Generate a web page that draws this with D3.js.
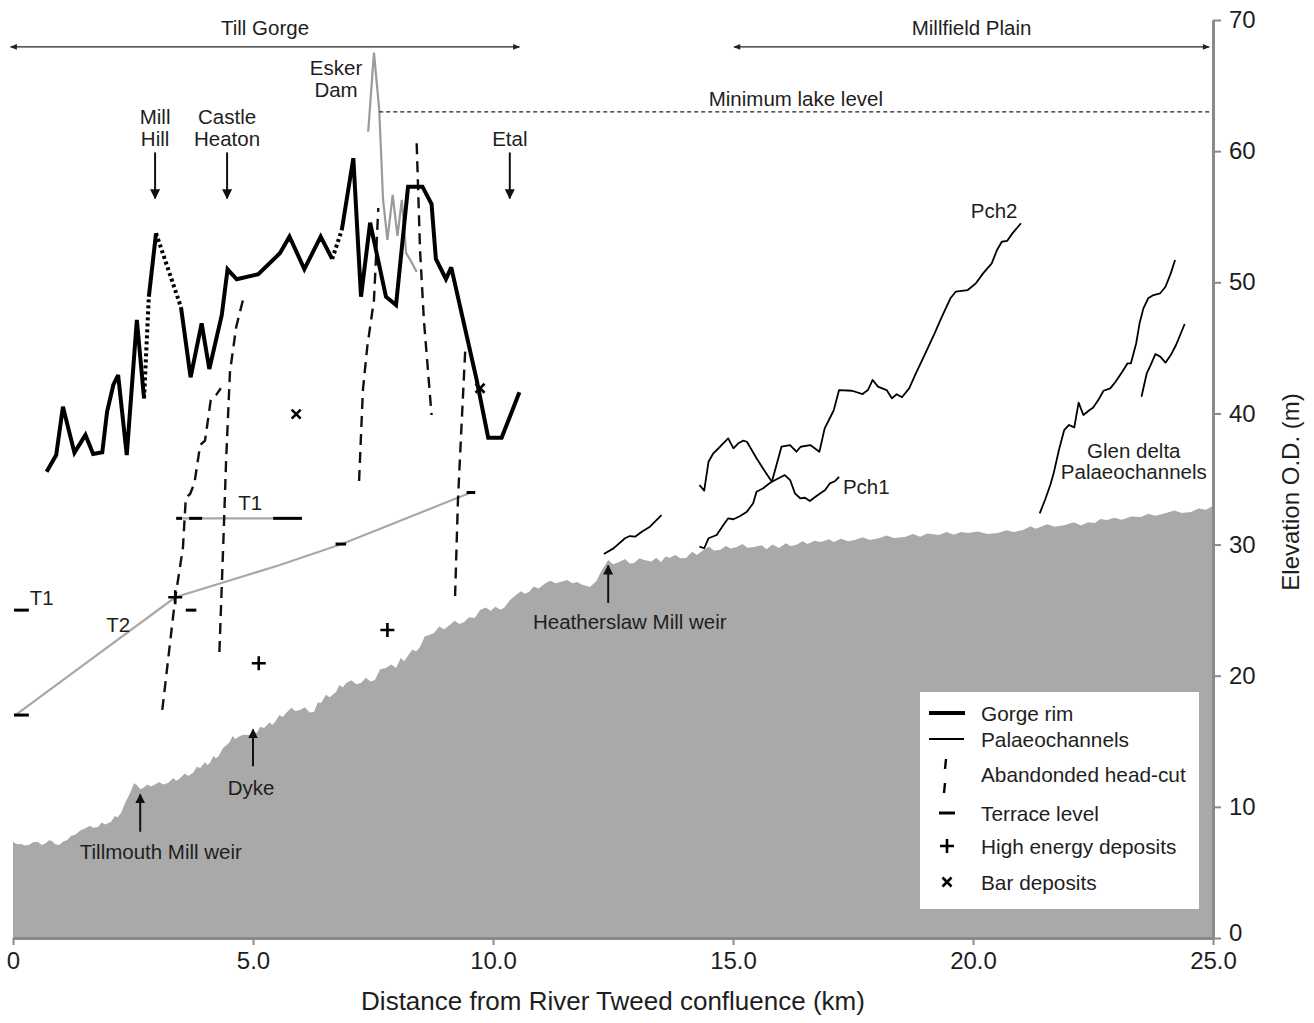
<!DOCTYPE html>
<html>
<head>
<meta charset="utf-8">
<script src="https://cdn.jsdelivr.net/npm/d3@7"></script>
<style>
  body { margin: 0; background: #fff; }
  svg { display: block; }
  text { font-family: "Liberation Sans", Arial, sans-serif; fill: #1e1e1e; }
</style>
</head>
<body>
<svg id="chart" width="1314" height="1023"></svg>
<script>
// ---- Long profile of the River Till: distance (km) vs elevation O.D. (m) ----

// River bed profile (filled area)
const riverBed = [[0.00,7.32],[0.09,7.15],[0.17,7.17],[0.25,7.05],[0.33,7.09],[0.42,7.30],[0.52,7.32],[0.60,7.10],[0.69,7.24],[0.75,7.45],[0.81,7.40],[0.88,7.15],[0.96,7.09],[1.05,7.35],[1.13,7.47],[1.21,7.80],[1.29,7.85],[1.40,8.20],[1.52,8.39],[1.60,8.55],[1.67,8.40],[1.77,8.46],[1.85,8.80],[1.92,8.65],[2.04,8.85],[2.12,9.30],[2.18,9.20],[2.25,9.53],[2.35,10.40],[2.44,11.06],[2.52,11.80],[2.58,11.67],[2.65,11.35],[2.71,11.44],[2.80,11.70],[2.87,11.55],[2.94,11.67],[3.05,11.90],[3.12,11.70],[3.23,11.82],[3.34,12.20],[3.40,12.00],[3.46,12.12],[3.58,12.55],[3.65,12.35],[3.75,12.58],[3.83,13.05],[3.90,12.96],[4.00,13.40],[4.05,13.20],[4.10,13.34],[4.18,13.90],[4.22,13.70],[4.27,13.80],[4.38,14.50],[4.50,14.87],[4.58,15.40],[4.63,15.15],[4.69,15.33],[4.80,15.50],[4.94,15.48],[5.00,15.80],[5.08,15.63],[5.15,16.10],[5.23,16.01],[5.35,16.45],[5.40,16.25],[5.46,16.47],[5.55,17.00],[5.62,16.85],[5.69,17.16],[5.80,17.55],[5.88,17.30],[5.98,17.39],[6.08,17.60],[6.18,17.20],[6.27,17.23],[6.35,17.95],[6.42,17.92],[6.52,18.55],[6.60,18.35],[6.73,18.76],[6.80,19.30],[6.87,19.10],[6.94,19.44],[7.05,19.65],[7.15,19.35],[7.25,19.44],[7.35,19.85],[7.45,19.55],[7.54,19.67],[7.65,20.50],[7.77,20.59],[7.88,20.85],[7.98,20.59],[8.08,21.35],[8.15,21.10],[8.21,21.43],[8.32,22.00],[8.40,21.85],[8.48,22.19],[8.58,23.00],[8.67,23.10],[8.77,23.26],[8.88,23.75],[8.98,23.55],[9.10,23.87],[9.20,24.20],[9.30,23.95],[9.40,24.10],[9.50,24.45],[9.62,24.40],[9.73,25.01],[9.85,25.20],[9.95,24.95],[10.05,25.25],[10.15,25.05],[10.23,25.16],[10.35,25.75],[10.48,26.15],[10.58,26.45],[10.66,26.25],[10.75,26.38],[10.85,26.80],[10.95,26.65],[11.10,27.07],[11.20,27.25],[11.30,27.05],[11.40,27.15],[11.55,27.30],[11.65,27.05],[11.75,27.15],[11.85,26.95],[12.02,26.76],[12.15,27.20],[12.27,28.06],[12.40,28.82],[12.50,28.50],[12.63,28.67],[12.75,28.90],[12.85,28.55],[12.94,28.59],[13.05,28.95],[13.15,28.82],[13.30,28.70],[13.40,29.00],[13.50,28.67],[13.60,29.10],[13.67,28.98],[13.80,29.20],[13.90,28.95],[14.02,28.98],[14.15,29.45],[14.25,29.20],[14.38,29.59],[14.50,29.85],[14.60,29.55],[14.73,29.59],[14.85,29.90],[14.95,29.70],[15.08,29.81],[15.20,30.05],[15.30,29.75],[15.44,29.81],[15.60,29.95],[15.70,29.65],[15.82,30.00],[15.96,29.74],[16.10,30.10],[16.20,29.90],[16.31,29.97],[16.45,30.25],[16.55,30.05],[16.70,30.30],[16.83,30.20],[17.00,30.40],[17.10,30.20],[17.25,30.45],[17.40,30.25],[17.54,30.35],[17.70,30.55],[17.85,30.35],[18.06,30.50],[18.20,30.70],[18.35,30.50],[18.58,30.58],[18.75,30.80],[18.90,30.60],[19.05,30.85],[19.29,30.73],[19.45,30.95],[19.60,30.75],[19.75,30.95],[19.90,30.88],[20.10,31.00],[20.30,30.80],[20.52,30.88],[20.70,31.10],[20.85,30.95],[21.04,31.11],[21.20,31.40],[21.30,31.20],[21.40,31.34],[21.55,31.55],[21.70,31.35],[21.92,31.49],[22.10,31.70],[22.25,31.45],[22.40,31.70],[22.54,31.64],[22.65,31.95],[22.79,31.87],[22.95,32.05],[23.10,31.90],[23.30,32.15],[23.50,32.10],[23.65,32.35],[23.80,32.20],[24.02,32.41],[24.20,32.60],[24.35,32.40],[24.54,32.48],[24.70,32.75],[24.85,32.65],[25.00,32.94]];

// Gorge rim: surveyed (solid) stretches; gaps between them are inferred (dotted)
const rimA = [[0.70,35.56],[0.90,36.83],[1.04,40.51],[1.28,37.01],[1.51,38.36],[1.67,36.91],[1.86,37.04],[1.96,40.13],[2.09,42.17],[2.19,42.93],[2.37,36.83],[2.58,47.13],[2.73,41.15]];
const rimB = [[2.83,48.90],[2.98,53.74]];
const rimC = [[3.50,48.09],[3.70,42.76],[3.93,46.87],[4.09,43.39],[4.35,47.51],[4.47,50.99],[4.66,50.23],[5.11,50.61],[5.56,52.21],[5.76,53.48],[6.07,51.01],[6.41,53.48],[6.65,51.78]];
const rimD = [[6.85,53.99],[7.09,59.46],[7.25,48.90],[7.44,54.54],[7.77,48.90],[7.98,48.27],[8.23,57.29],[8.53,57.29],[8.72,55.97],[8.81,51.78],[9.02,50.25],[9.13,51.14],[9.66,42.55],[9.90,38.15],[10.18,38.15],[10.55,41.61]];

// Esker dam crest (grey)
const esker = [[7.40,61.48],[7.52,67.51],[7.63,63.14],[7.71,56.28],[7.80,53.23],[7.91,56.66],[8.01,53.53],[8.10,56.28],[8.19,52.23],[8.29,51.62],[8.41,50.78]];
const lakeLevel = 63.0;
const lakeExtent = [7.63, 25.0];

// Abandoned head-cuts
const headCut1 = [[3.11,17.39],[3.38,25.93],[3.54,29.74],[3.60,33.55],[3.69,33.86],[3.78,34.69],[3.90,37.59],[4.00,37.92],[4.12,41.02],[4.23,41.40],[4.33,41.92]];
const headCut2 = [[4.30,21.81],[4.38,29.97],[4.44,36.45],[4.52,43.16],[4.65,46.59],[4.79,48.65]];
const headCut3 = [[7.21,34.85],[7.29,41.79],[7.38,45.06],[7.52,48.65],[7.56,51.70],[7.61,55.66]];
const headCut4 = [[8.41,60.60],[8.48,52.46],[8.56,47.13],[8.72,39.88]];
const headCut5 = [[9.42,44.71],[9.35,39.50],[9.27,33.40],[9.21,26.08]];

// Terrace surfaces (grey) and terrace level observations [fromKm, toKm, elevation]
const terraceT1 = [[3.40,32.0],[6.02,32.0]];
const terraceT2 = [[0.05,17.0],[3.38,25.98],[5.56,28.44],[6.88,30.08],[9.24,33.53],[9.52,33.93]];
const terraceLevels = [[0.02,0.33,25.0],[0.02,0.33,17.0],[3.40,3.52,32.0],[3.67,3.94,32.0],[5.42,6.02,32.0],[3.60,3.82,25.0],[6.72,6.94,30.04],[9.45,9.63,33.97]];

// Deposits
const highEnergy = [[3.38,25.98],[5.12,20.95],[7.80,23.49]];
const barDeposits = [[5.90,39.95],[9.73,41.92]];

// Palaeochannels
const pchShort = [[12.31,29.28],[12.51,29.71],[12.75,30.48],[12.85,30.65],[12.96,30.60],[13.10,30.98],[13.27,31.36],[13.51,32.25]];
const pch1 = [[14.30,34.54],[14.40,34.11],[14.49,36.32],[14.59,36.96],[14.73,37.46],[14.90,38.10],[15.01,37.34],[15.11,37.72],[15.21,37.92],[15.29,37.84],[15.49,36.58],[15.67,35.55],[15.81,34.79],[16.08,35.30],[16.19,34.92],[16.29,33.91],[16.40,33.53],[16.50,33.57],[16.60,33.32],[16.74,33.70],[16.92,34.16],[17.02,34.67],[17.13,34.85],[17.21,35.17]];
const pch2 = [[14.30,29.84],[14.40,29.72],[14.49,30.48],[14.66,30.73],[14.80,31.49],[14.90,32.00],[15.01,31.93],[15.15,32.18],[15.29,32.51],[15.42,33.15],[15.49,34.03],[15.63,34.29],[15.74,34.62],[15.81,34.79],[16.01,37.46],[16.19,37.59],[16.32,37.08],[16.41,37.46],[16.61,37.59],[16.80,37.08],[16.91,38.86],[17.05,39.88],[17.10,40.26],[17.21,41.78],[17.48,41.73],[17.70,41.48],[17.81,41.78],[17.91,42.55],[18.02,42.04],[18.20,41.78],[18.31,41.15],[18.41,41.46],[18.52,41.23],[18.67,41.91],[18.81,43.06],[18.99,44.45],[19.20,46.11],[19.35,47.37],[19.53,48.78],[19.64,49.28],[19.89,49.41],[20.06,49.92],[20.21,50.68],[20.39,51.44],[20.50,52.46],[20.60,53.09],[20.71,53.15],[20.82,53.73],[21.00,54.50]];
const glen1 = [[21.39,32.38],[21.50,33.40],[21.61,34.54],[21.68,35.43],[21.79,37.21],[21.90,38.73],[22.00,39.12],[22.11,38.94],[22.20,40.82],[22.30,39.88],[22.43,40.26],[22.50,40.44],[22.61,41.02],[22.72,41.73],[22.86,41.91],[22.97,42.42],[23.11,43.18],[23.22,43.82],[23.29,43.82],[23.40,45.35],[23.47,46.87],[23.55,48.01],[23.65,48.78],[23.76,49.03],[23.90,49.16],[24.01,49.66],[24.12,50.68],[24.21,51.70]];
const glen2 = [[23.51,41.27],[23.62,43.06],[23.70,43.69],[23.80,44.53],[23.90,44.33],[24.01,43.87],[24.12,44.45],[24.23,45.22],[24.41,46.82]];

// Axis ticks
const xTicks = [0, 5, 10, 15, 20, 25];
const yTicks = [0, 10, 20, 30, 40, 50, 60, 70];

// Legend entries
const legendItems = ["Gorge rim", "Palaeochannels", "Abandonded head-cut", "Terrace level", "High energy deposits", "Bar deposits"];

// ---------------------------------------------------------------------------
const svg = d3.select("#chart");
const x = d3.scaleLinear().domain([0, 25]).range([13, 1213]);
const y = d3.scaleLinear().domain([0, 70]).range([938, 20]);
const line = d3.line().x(d => x(d[0])).y(d => y(d[1]));
const LABEL = 20.5;

// arrowhead markers
const defs = svg.append("defs");
defs.append("marker").attr("id", "head").attr("viewBox", "0 0 10 10")
  .attr("refX", 9).attr("refY", 5).attr("markerWidth", 10).attr("markerHeight", 10)
  .attr("markerUnits", "userSpaceOnUse").attr("orient", "auto")
  .append("path").attr("d", "M0,0 L10,5 L0,10 Z").attr("fill", "#111");
defs.append("marker").attr("id", "headSmall").attr("viewBox", "0 0 10 10")
  .attr("refX", 9).attr("refY", 5).attr("markerWidth", 9).attr("markerHeight", 7)
  .attr("markerUnits", "userSpaceOnUse").attr("orient", "auto-start-reverse")
  .append("path").attr("d", "M0,1 L10,5 L0,9 Z").attr("fill", "#222");

// river bed
const area = d3.area().x(d => x(d[0])).y0(y(0)).y1(d => y(d[1]));
svg.append("path").datum(riverBed).attr("d", area).attr("fill", "#a9a9a9");

// terrace surfaces
[terraceT1, terraceT2].forEach(t => {
  svg.append("path").datum(t).attr("d", line)
    .attr("fill", "none").attr("stroke", "#a8a8a8").attr("stroke-width", 2.2);
});

// esker & minimum lake level
svg.append("path").datum(esker).attr("d", line)
  .attr("fill", "none").attr("stroke", "#9a9a9a").attr("stroke-width", 2.2);
svg.append("line")
  .attr("x1", x(lakeExtent[0])).attr("x2", x(lakeExtent[1]))
  .attr("y1", y(lakeLevel)).attr("y2", y(lakeLevel))
  .attr("stroke", "#222").attr("stroke-width", 1.3).attr("stroke-dasharray", "4 3");

// head-cuts
[headCut1, headCut2, headCut3, headCut4, headCut5].forEach(h => {
  svg.append("path").datum(h).attr("d", line)
    .attr("fill", "none").attr("stroke", "#111").attr("stroke-width", 2.4)
    .attr("stroke-dasharray", "11 7");
});

// gorge rim
const rims = [rimA, rimB, rimC, rimD];
rims.forEach(r => {
  svg.append("path").datum(r).attr("d", line)
    .attr("fill", "none").attr("stroke", "#000").attr("stroke-width", 4)
    .attr("stroke-linejoin", "miter").attr("stroke-miterlimit", 3);
});
for (let i = 0; i < rims.length - 1; i++) {
  const a = rims[i][rims[i].length - 1], b = rims[i + 1][0];
  svg.append("path").datum([a, b]).attr("d", line)
    .attr("fill", "none").attr("stroke", "#000").attr("stroke-width", 4)
    .attr("stroke-dasharray", "3 3");
}

// palaeochannels
[pchShort, pch1, pch2, glen1, glen2].forEach(p => {
  svg.append("path").datum(p).attr("d", line)
    .attr("fill", "none").attr("stroke", "#000").attr("stroke-width", 1.8)
    .attr("stroke-linejoin", "round");
});

// terrace level marks
svg.selectAll("line.terrace").data(terraceLevels).join("line")
  .attr("x1", d => x(d[0])).attr("x2", d => x(d[1]))
  .attr("y1", d => y(d[2])).attr("y2", d => y(d[2]))
  .attr("stroke", "#000").attr("stroke-width", 3);

// deposits
const plus = (g, cx, cy, s) => {
  g.append("path").attr("d", `M${cx - s},${cy}H${cx + s}M${cx},${cy - s}V${cy + s}`)
    .attr("stroke", "#000").attr("stroke-width", 2.6).attr("fill", "none");
};
const cross = (g, cx, cy, s) => {
  g.append("path").attr("d", `M${cx - s},${cy - s}L${cx + s},${cy + s}M${cx - s},${cy + s}L${cx + s},${cy - s}`)
    .attr("stroke", "#000").attr("stroke-width", 2.6).attr("fill", "none");
};
highEnergy.forEach(d => plus(svg, x(d[0]), y(d[1]), 7));
barDeposits.forEach(d => cross(svg, x(d[0]), y(d[1]), 4.5));

// annotation helpers
const label = (txt, px, py, size, anchor) => svg.append("text")
  .attr("x", px).attr("y", py).attr("text-anchor", anchor || "middle")
  .attr("dominant-baseline", "central").attr("font-size", size).text(txt);
const arrow = (x1, y1, x2, y2) => svg.append("line")
  .attr("x1", x1).attr("y1", y1).attr("x2", x2).attr("y2", y2)
  .attr("stroke", "#111").attr("stroke-width", 2).attr("marker-end", "url(#head)");

// region spans
const span = (k0, k1, m, txt, tm) => {
  svg.append("line").attr("x1", x(k0)).attr("x2", x(k1)).attr("y1", y(m)).attr("y2", y(m))
    .attr("stroke", "#222").attr("stroke-width", 1.4)
    .attr("marker-start", "url(#headSmall)").attr("marker-end", "url(#headSmall)");
  label(txt, x((k0 + k1) / 2), y(tm), LABEL);
};
span(-0.05, 10.55, 67.95, "Till Gorge", 69.45);
span(15.02, 24.92, 67.95, "Millfield Plain", 69.45);

// place names along the gorge
label("Mill", x(2.96), y(62.65), LABEL);
label("Hill", x(2.96), y(60.95), LABEL);
arrow(x(2.96), y(59.9), x(2.96), y(56.4));
label("Castle", x(4.46), y(62.65), LABEL);
label("Heaton", x(4.46), y(60.95), LABEL);
arrow(x(4.46), y(59.9), x(4.46), y(56.4));
label("Etal", x(10.35), y(60.95), LABEL);
arrow(x(10.35), y(59.9), x(10.35), y(56.4));
label("Esker", x(6.73), y(66.4), LABEL);
label("Dam", x(6.73), y(64.7), LABEL);
label("Minimum lake level", x(16.31), y(64.05), LABEL);

// weirs and dyke
arrow(x(2.65), y(8.1), x(2.65), y(10.95));
label("Tillmouth Mill weir", x(3.08), y(6.62), LABEL);
arrow(x(5.0), y(13.1), x(5.0), y(15.9));
label("Dyke", x(4.96), y(11.5), LABEL);
arrow(x(12.40), y(25.55), x(12.40), y(28.4));
label("Heatherslaw Mill weir", x(12.85), y(24.1), LABEL);

// terrace & channel names
label("T1", x(4.94), y(33.2), LABEL);
label("T1", x(0.35), y(26.0), LABEL, "start");
label("T2", x(2.19), y(23.9), LABEL);
label("Pch1", x(17.29), y(34.4), LABEL, "start");
label("Pch2", x(20.44), y(55.45), LABEL);
label("Glen delta", x(23.35), y(37.2), LABEL);
label("Palaeochannels", x(23.35), y(35.6), LABEL);

// legend
const lg = svg.append("g");
lg.append("rect").attr("x", 920).attr("y", 692).attr("width", 279).attr("height", 217).attr("fill", "#fff");
const rowY = [713, 739, 774, 813, 846, 882];
legendItems.forEach((t, i) => {
  lg.append("text").attr("x", 981).attr("y", rowY[i]).attr("dominant-baseline", "central")
    .attr("font-size", 20.8).text(t);
});
lg.append("line").attr("x1", 929).attr("x2", 965).attr("y1", 713).attr("y2", 713).attr("stroke", "#000").attr("stroke-width", 4);
lg.append("line").attr("x1", 929).attr("x2", 964).attr("y1", 739).attr("y2", 739).attr("stroke", "#000").attr("stroke-width", 1.8);
lg.append("line").attr("x1", 946).attr("x2", 945).attr("y1", 759).attr("y2", 769).attr("stroke", "#000").attr("stroke-width", 2.4);
lg.append("line").attr("x1", 945).attr("x2", 944).attr("y1", 783).attr("y2", 793).attr("stroke", "#000").attr("stroke-width", 2.4);
lg.append("line").attr("x1", 939).attr("x2", 955).attr("y1", 813).attr("y2", 813).attr("stroke", "#000").attr("stroke-width", 3);
plus(lg, 947, 846, 7);
cross(lg, 947, 882, 4.5);

// axes
const xAxis = svg.append("g").attr("transform", `translate(0,${y(0)})`)
  .call(d3.axisBottom(x).tickValues(xTicks).tickSize(7).tickSizeOuter(0).tickPadding(7)
    .tickFormat(d => d === 0 ? "0" : d3.format(".1f")(d)));
const yAxis = svg.append("g").attr("transform", `translate(${x(25)},0)`)
  .call(d3.axisRight(y).tickValues(yTicks).tickSize(8).tickSizeOuter(0).tickPadding(8));
[xAxis, yAxis].forEach(a => {
  a.select(".domain").attr("stroke", "#8a8a8a").attr("stroke-width", 3);
  a.selectAll(".tick line").attr("stroke", "#8a8a8a").attr("stroke-width", 2);
  a.selectAll(".tick text").attr("font-size", 24).attr("fill", "#333")
    .attr("font-family", "'Liberation Sans', Arial, sans-serif");
});
// lift the lowest elevation label clear of the last distance label
yAxis.selectAll(".tick text").filter(d => d === 0).attr("dy", "0.1em");

svg.append("text").attr("x", x(12.5)).attr("y", 1001).attr("text-anchor", "middle")
  .attr("dominant-baseline", "central").attr("font-size", 26).text("Distance from River Tweed confluence (km)");
svg.append("text").attr("transform", "translate(1290,492) rotate(-90)")
  .attr("text-anchor", "middle").attr("dominant-baseline", "central")
  .attr("font-size", 24).text("Elevation O.D. (m)");
</script>
</body>
</html>
